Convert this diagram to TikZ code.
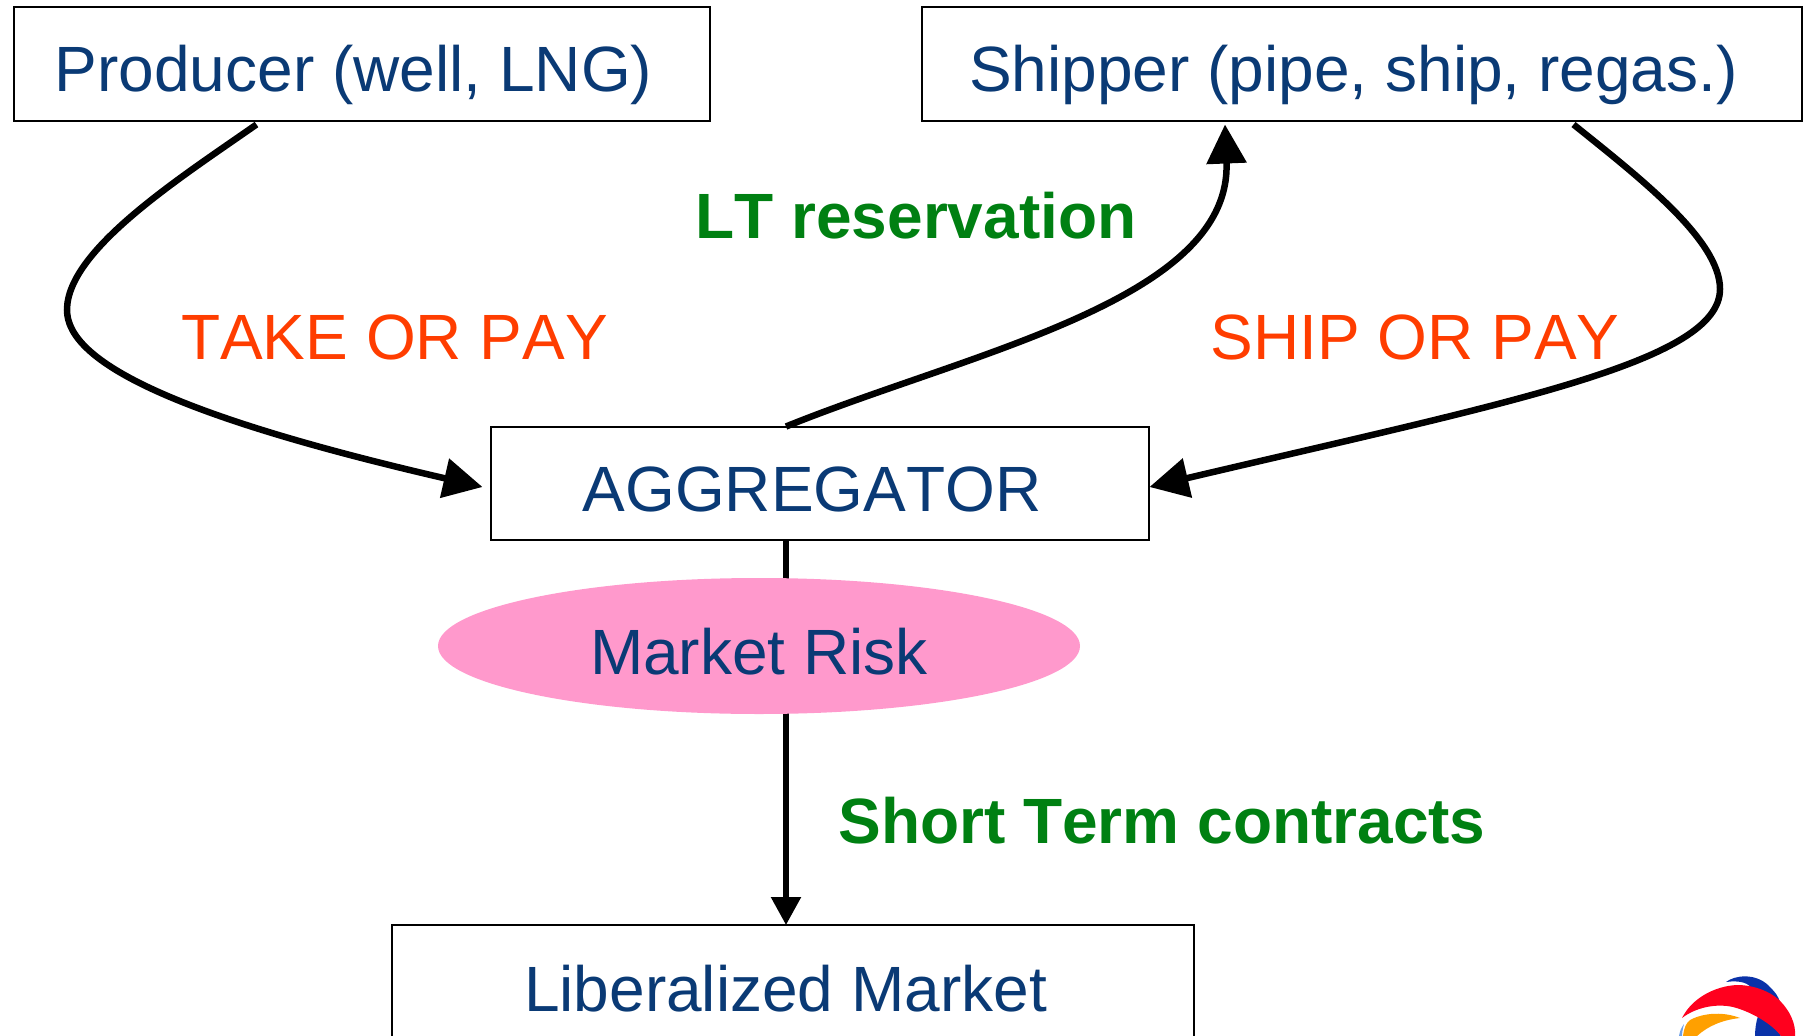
\documentclass[tikz,border=0pt]{standalone}
\usepackage{fontspec}
\setmainfont[Kerning=Off]{Liberation Sans}
\usetikzlibrary{arrows.meta,shapes.geometric}
\definecolor{navy}{HTML}{0A3A75}
\definecolor{dkgreen}{HTML}{008012}
\definecolor{redor}{HTML}{FF3D00}
\definecolor{pinkf}{HTML}{FF99CC}
\definecolor{lgred}{HTML}{FF001E}
\definecolor{lgblue}{HTML}{0A32A8}
\definecolor{lgor}{HTML}{FFA000}
\definecolor{lgsky}{HTML}{6EA0E6}
\tikzset{
  x=1pt,y=-1pt,
  boxn/.style={draw=black,line width=2pt,fill=white,text=navy,inner sep=0pt,outer sep=0pt,font=\fontsize{64}{70}\selectfont},
  lblred/.style={anchor=base,text=redor,inner sep=0pt,font=\fontsize{64}{70}\selectfont},
  lblgreen/.style={anchor=base,text=dkgreen,inner sep=0pt,font=\fontsize{64}{70}\selectfont\bfseries},
  conn/.style={draw=black,line width=6.5pt,-{Triangle[length=39pt,width=39pt]}},
  connb/.style={draw=black,line width=5.5pt,-{Triangle[length=28pt,width=29pt]}},
}
\begin{document}
\begin{tikzpicture}
\useasboundingbox (0,0) rectangle (1805,1036);
\clip (0,0) rectangle (1805,1036);
\node[boxn,minimum width=696pt,minimum height=114pt,text height=55pt,text depth=0pt] (prod) at (361.5,63.5) {\hspace*{-16pt}Producer (well, LNG)};
\node[boxn,minimum width=880pt,minimum height=114pt,text height=55pt,text depth=0pt] (ship) at (1361.5,63.5) {\hspace*{-16pt}Shipper (pipe, ship, regas.)};
\node[boxn,minimum width=658pt,minimum height=113pt,text height=57pt,text depth=0pt] (agg) at (819.5,483) {\hspace*{-15pt}AGGREGATOR};
\node[boxn,minimum width=802pt,minimum height=175pt,text height=0pt,text depth=3pt] (lib) at (793,1012.5) {\hspace*{-15pt}Liberalized Market};
\coordinate (mx) at (786,0);
\draw[connb] (mx |- agg.south) -- (mx |- lib.north);
\node[ellipse,fill=pinkf,text=navy,inner sep=0pt,minimum width=642pt,minimum height=136pt,text height=56pt,text depth=0pt,font=\fontsize{64}{70}\selectfont] (risk) at (759,646) {Market Risk};
\draw[conn] ([shift={(-105,4)}]prod.south) .. controls (180,178) and (67,250) .. (67,310)
  .. controls (67,362) and (175,416) .. ([shift={(-8,4)}]agg.west);
\draw[conn] (mx |- agg.north) .. controls (970,352) and (1232,300) .. ([shift={(-136.5,4)}]ship.south);
\draw[conn] ([shift={(212,4)}]ship.south) .. controls (1640,178) and (1720,240) .. (1720,289)
  .. controls (1720,362) and (1510,402) .. ([shift={(1,4)}]agg.east);
\node[lblred] (top) at (394.5,359) {TAKE OR PAY};
\node[lblred] (sop) at (1415,359) {SHIP OR PAY};
\node[lblgreen] (lt) at (916,238) {LT reservation};
\node[lblgreen] (st) at (1162,843) {Short Term contracts};
% logo
\fill[lgblue] (1726,982) .. controls (1735,975) and (1755,973) .. (1768,985) .. controls (1776,993) and (1778,996) .. (1780,1002) -- (1752,990) .. controls (1750,983) and (1740,980) .. (1726,982) -- cycle;
\fill[lgblue] (1755,1036) .. controls (1755,1030) and (1756,1022) .. (1758,1016) .. controls (1768,1022) and (1776,1028) .. (1781,1036) -- cycle;
\fill[lgred] (1682,1018) .. controls (1692,998) and (1715,986) .. (1737,985) .. controls (1755,985) and (1770,992) .. (1778,999) .. controls (1790,1010) and (1796,1024) .. (1795,1036) -- (1781,1036) .. controls (1772,1024) and (1752,1012) .. (1733,1007) .. controls (1715,1003) and (1695,1008) .. (1682,1018) -- cycle;
\fill[lgor] (1683,1036) .. controls (1684,1028) and (1686,1023) .. (1690,1020) .. controls (1705,1012) and (1725,1012) .. (1740,1018) .. controls (1722,1020) and (1708,1026) .. (1697,1036) -- cycle;
\fill[lgsky] (1679,1036) .. controls (1680,1031) and (1681,1028) .. (1684,1024) .. controls (1683,1028) and (1682,1032) .. (1682,1036) -- cycle;
\end{tikzpicture}
\end{document}
